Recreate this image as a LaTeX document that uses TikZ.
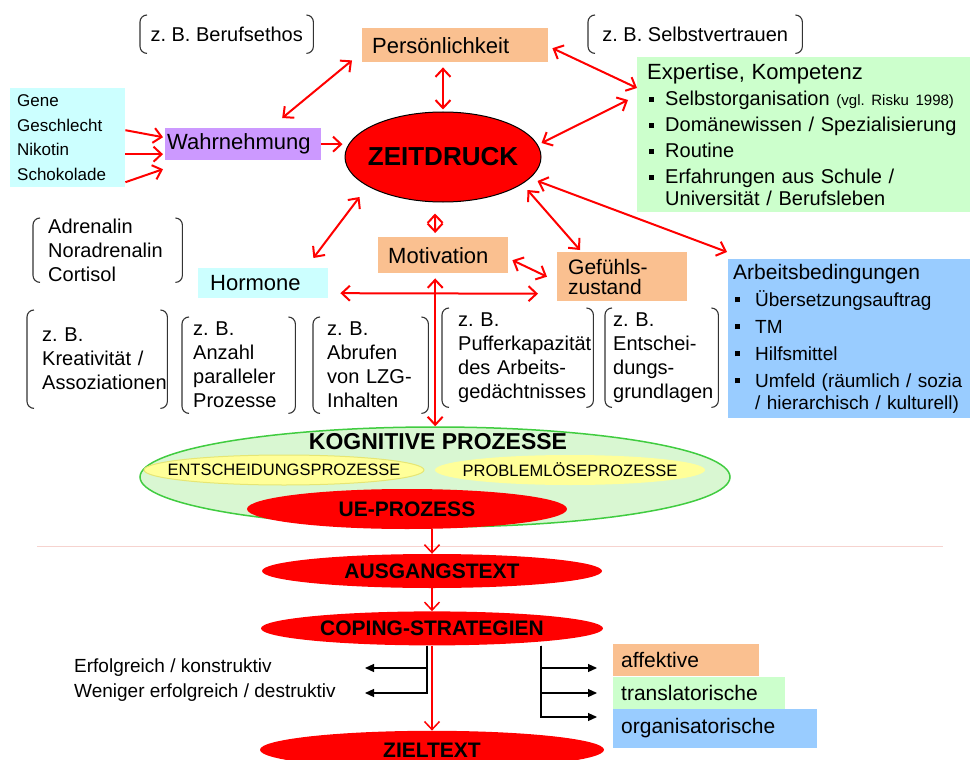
\documentclass[tikz,border=0pt]{standalone}
\usepackage{fontspec}
\setmainfont{Liberation Sans}
\usetikzlibrary{arrows.meta,positioning,shapes.geometric,calc}

\definecolor{pfirsich}{HTML}{FAC090}
\definecolor{hellgruen}{HTML}{CCFFCC}
\definecolor{hellcyan}{HTML}{CCFFFF}
\definecolor{lila}{HTML}{CC99FF}
\definecolor{hellblau}{HTML}{99CCFF}
\definecolor{gelb}{HTML}{FFFF99}
\definecolor{gelbrand}{HTML}{E6E673}
\definecolor{kgruen}{HTML}{D9F7D2}
\definecolor{kgrenze}{HTML}{40CC40}
\definecolor{rosa}{HTML}{F6D3CF}

\newcommand{\gross}{\fontsize{22}{26}\selectfont}
\newcommand{\mittel}{\fontsize{20}{24}\selectfont}
\newcommand{\klein}{\fontsize{17}{24.5}\selectfont}
\newcommand{\punkt}[1][11pt]{\hspace*{2pt}\rule[4pt]{5pt}{5pt}\hspace*{#1}}
\hyphenpenalty=10000
\exhyphenpenalty=10000
\frenchspacing

\begin{document}
\begin{tikzpicture}[x=1pt, y=-1pt, >={Straight Barb[length=8pt,width=15pt]},
	rot/.style={red, line width=2pt},
	post/.style={-{Triangle[length=9pt,width=8pt]}, line width=1.2pt},
	kasten/.style={anchor=north west, align=left, inner ysep=0pt},
	klammer/.style={anchor=north west, align=left, inner ysep=0pt, font=\mittel},
	klammerlinie/.style={line width=1.1pt, rounded corners=7pt, black!80},
	blase/.style={ellipse, fill=red, inner sep=0pt, font=\bfseries\fontsize{21}{24}\selectfont}]

	\path[use as bounding box, fill=white] (0,0) rectangle (970,760);

	\node [kasten, fill=pfirsich, font=\gross, text width=166pt, inner xsep=10pt, minimum height=34pt] (pers) at (362,28) {Persönlichkeit};

	\node [kasten, fill=hellgruen, font=\fontsize{20}{26}\selectfont, text width=313pt, inner xsep=10pt, minimum height=155pt] (expert) at (637,57)
		{{\gross Expertise, Kompetenz}\\
		\punkt Selbstorganisation {\fontsize{15}{20}\selectfont (vgl. Risku 1998)}\\
		\punkt Domänewissen / Spezialisierung\\
		\punkt Routine\\
		\punkt Erfahrungen aus Schule /\\[-4pt]
		\hspace*{18pt}Universität / Berufsleben};

	\node [kasten, fill=hellcyan, font=\klein, text width=101pt, inner xsep=7pt, minimum height=99pt] (gene) at (10,88)
		{Gene\\Geschlecht\\Nikotin\\Schokolade};

	\node [kasten, fill=lila, font=\gross, text width=152pt, inner xsep=2pt, minimum height=32pt] (wahr) at (165,128) {Wahrnehmung};

	\node [ellipse, draw=black, line width=1pt, fill=red, minimum width=196pt, minimum height=90pt,
		label={[font=\bfseries\fontsize{26}{30}\selectfont]center:ZEITDRUCK}] (zeit) at (443,157) {};

	\node [kasten, fill=pfirsich, font=\gross, text width=110pt, inner xsep=10pt, minimum height=36pt] (motiv) at (378,237) {Motivation};

	\node [kasten, fill=pfirsich, font=\fontsize{21}{20}\selectfont, text width=108pt, inner xsep=11pt, minimum height=49pt] (gefuehl) at (557,252)
		{Gefühls-\\zustand};

	\node [kasten, fill=hellcyan, font=\gross, text width=106pt, inner xsep=12pt, minimum height=30pt] (hormone) at (198,268) {Hormone};

	\node [kasten, fill=hellblau, font=\fontsize{19}{27}\selectfont, text width=232pt, inner xsep=5pt, minimum height=159pt] (arbeit) at (728,259)
		{{\fontsize{21}{27}\selectfont Arbeitsbedingungen}\\
		\punkt[15pt]Übersetzungsauftrag\\
		\punkt[15pt]TM\\
		\punkt[15pt]Hilfsmittel\\
		\mbox{\punkt[15pt]Umfeld (räumlich / sozia}\\[-5pt]
		\hspace*{22pt}/ hierarchisch / kulturell)};

	\node [klammer, minimum width=173pt, minimum height=38pt, align=center] (beruf) at (140,15) {z. B. Berufsethos};
	\node [klammer, minimum width=214pt, minimum height=38pt, align=center] (selbst) at (588,15) {z. B. Selbstvertrauen};
	\node [klammer, minimum width=149pt, minimum height=64pt, text width=119pt, inner xsep=15pt] (adren) at (33,218)
		{Adrenalin\\Noradrenalin\\Cortisol};
	\node [klammer, minimum width=140pt, minimum height=98pt, text width=110pt, inner xsep=15pt] (kb1) at (27,310)
		{z. B.\\Kreativität /\\Assoziationen};
	\node [klammer, minimum width=113pt, minimum height=96pt, text width=91pt, inner xsep=11pt] (kb2) at (182,317)
		{z. B.\\Anzahl\\paralleler\\Prozesse};
	\node [klammer, minimum width=115pt, minimum height=96pt, text width=87pt, inner xsep=14pt] (kb3) at (313,317)
		{z. B.\\Abrufen\\von LZG-\\Inhalten};
	\node [klammer, minimum width=151pt, minimum height=99pt, text width=119pt, inner xsep=16pt] (kb4) at (442,308)
		{z. B.\\Pufferkapazität\\des Arbeits-\\gedächtnisses};
	\node [klammer, minimum width=113pt, minimum height=99pt, text width=97pt, inner xsep=8pt] (kb5) at (605,308)
		{z. B.\\Entschei-\\dungs-\\grundlagen};

	\foreach \k in {beruf,selbst,adren,kb1,kb2,kb3,kb4,kb5} {
		\draw[klammerlinie] ([xshift=7pt]\k.north west) -- (\k.north west) -- (\k.south west) -- ([xshift=7pt]\k.south west);
		\draw[klammerlinie] ([xshift=-7pt]\k.north east) -- (\k.north east) -- (\k.south east) -- ([xshift=-7pt]\k.south east);
	}

	\node [ellipse, fill=kgruen, draw=kgrenze, line width=1.5pt, minimum width=590pt, minimum height=100pt] (kog) at (435,477) {};
	\node [font=\bfseries\fontsize{23}{26}\selectfont] (kogtext) at (438,442) {KOGNITIVE PROZESSE};
	\node [ellipse, fill=gelb, draw=gelbrand, line width=1pt, minimum width=280pt, minimum height=30pt,
		label={[font=\fontsize{16.5}{18}\selectfont]center:ENTSCHEIDUNGSPROZESSE}] (entsch) at (284,470) {};
	\node [ellipse, fill=gelb, minimum width=270pt, minimum height=30pt,
		label={[font=\fontsize{16.5}{18}\selectfont]center:PROBLEMLÖSEPROZESSE}] (problem) at (570,470) {};
	\node [blase, minimum width=320pt, minimum height=40pt] (ue) at (407,509) {UE-PROZESS};

	\coordinate (trennL) at (37,546);
	\coordinate (trennR) at (943,546);
	\draw[rosa, line width=1pt] (trennL) -- (trennR);

	\node [blase, minimum width=340pt, minimum height=34pt] (ausgang) at (432,571) {AUSGANGSTEXT};
	\node [blase, minimum width=342pt, minimum height=34pt, below=23pt of ausgang] (coping) {COPING-STRATEGIEN};
	\node [blase, minimum width=344pt, minimum height=38pt, below=85pt of coping] (ziel) {ZIELTEXT};

	\node [anchor=west, inner sep=0pt, font=\fontsize{19}{22}\selectfont] (erfolg) at (74,668) {Erfolgreich / konstruktiv};
	\node [anchor=west, inner sep=0pt, font=\fontsize{19}{22}\selectfont] (weniger) at (74,693) {Weniger erfolgreich / destruktiv};

	\node [kasten, fill=pfirsich, font=\fontsize{21}{24}\selectfont, text width=130pt, inner xsep=8pt, minimum height=32pt] (affekt) at (613,644) {affektive};
	\node [kasten, fill=hellgruen, font=\fontsize{21}{24}\selectfont, text width=156pt, inner xsep=8pt, minimum height=32pt] (trans) at (affekt.south west) {translatorische};
	\node [kasten, fill=hellblau, font=\fontsize{21}{24}\selectfont, text width=188pt, inner xsep=8pt, minimum height=39pt] (organ) at (trans.south west) {organisatorische};

	\foreach \a/\b in {-7.5/-7, 16.5/10, 44.5/25}
		\draw[rot, ->] ($(gene.east)+(0,\a)$) -- ($(wahr.west)+(-2,\b)$);
	\draw[rot, ->, shorten >=2pt] (wahr.east) -- (wahr.east -| zeit.west);
	\draw[rot, <->] ($(pers.south west)+(-10,-2)$) -- ($(wahr.north)+(39,-10)$);
	\draw[rot, <->, shorten <=5pt, shorten >=2pt] (pers.south -| zeit.north) -- (zeit.north);
	\draw[rot, <->] ($(pers.east)+(4,3)$) -- ($(expert.north west)+(0,31)$);
	\draw[rot, <->] ($(zeit.east)+(0,-14)$) -- ($(expert.north west)+(-9,43)$);
	\draw[rot, <->] ($(zeit.east)+(-4,24)$) -- ($(arbeit.north west)+(-1,-7)$);
	\draw[rot, <->] ($(zeit.east)+(-14,33)$) -- ($(gefuehl.north west)+(23,-2)$);
	\draw[rot, <->] ($(zeit.west)+(15,40)$) -- ($(hormone.north east)+(-15,-10)$);
	\draw[rot, <->] ($(zeit.south)+(-8,11)$) -- ($(motiv.north)+(-8,-4)$);
	\draw[rot, <->] ($(motiv.east)+(4,5)$) -- ($(gefuehl.west)+(-10,0)$);
	\draw[rot, <->] ($(motiv.south)+(-8,5)$) -- (kog.north -| {$(motiv.south)+(-8,0)$});
	\draw[rot, <->] ($(hormone.east)+(12,10)$) -- ($(gefuehl.west)+(-19,17)$);

	\draw[rot, line width=1.5pt, ->] (ausgang.north |- ue.south) -- (ausgang.north);
	\draw[rot, line width=1.5pt, ->] (ausgang.south) -- (coping.north);
	\draw[rot, line width=1.5pt, ->] (coping.south) -- (ziel.north);

	\coordinate (erfolgPfeil) at (365,668);
	\coordinate (wenigerPfeil) at (365,693);
	\draw[post] ([xshift=-5pt]coping.south) |- (erfolgPfeil);
	\draw[post] ([xshift=-5pt]coping.south) |- (wenigerPfeil);

	\coordinate (affPfeil) at (597,668);
	\coordinate (transPfeil) at (597,693);
	\coordinate (organPfeil) at (597,717);
	\foreach \z in {affPfeil, transPfeil, organPfeil}
		\draw[post] ([xshift=109pt]coping.south) |- (\z);

\end{tikzpicture}
\end{document}
